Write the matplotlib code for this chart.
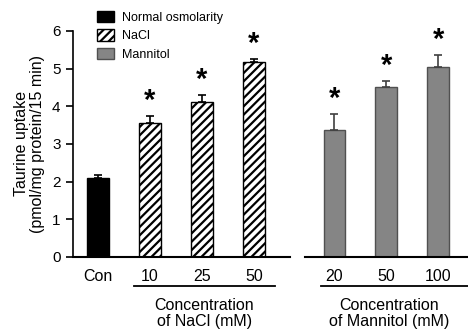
import numpy as np
import matplotlib.pyplot as plt
import matplotlib as mpl
from matplotlib.transforms import blended_transform_factory

mpl.rcParams['font.family'] = ['Liberation Sans', 'DejaVu Sans']
mpl.rcParams['hatch.linewidth'] = 1.6

# data
labels = ['Con', '10', '25', '50', '20', '50', '100']
groups = ['Normal osmolarity', 'NaCl', 'NaCl', 'NaCl', 'Mannitol', 'Mannitol', 'Mannitol']
uptake = [2.1, 3.55, 4.11, 5.17, 3.37, 4.5, 5.05]
sem = [0.07, 0.2, 0.18, 0.07, 0.42, 0.16, 0.3]
signif = [False, True, True, True, True, True, True]
pos = [0, 1, 2, 3, 4.55, 5.55, 6.55]

styles = {
    'Normal osmolarity': dict(color='black', edgecolor='black', hatch=None),
    'NaCl': dict(color='white', edgecolor='black', hatch='////'),
    'Mannitol': dict(color='#858585', edgecolor='#505050', hatch=None),
}

fig = plt.figure(figsize=(4.68, 3.35), dpi=100)
ax = fig.add_axes([0.156, 0.233, 0.844, 0.675])

seen = set()
for x, g, v, e, s in zip(pos, groups, uptake, sem, signif):
    st = styles[g]
    ax.bar(x, v, width=0.42, color=st['color'], edgecolor=st['edgecolor'],
           hatch=st['hatch'], linewidth=1.0,
           label=g if g not in seen else None, zorder=2)
    seen.add(g)
    ecol = '#404040' if g == 'Mannitol' else 'black'
    ax.errorbar(x, v, yerr=[[0], [e]], fmt='none', ecolor=ecol,
                elinewidth=1.2, capsize=3, capthick=1.2, zorder=3)
    if s:
        ax.text(x, v + e + 0.03, '*', ha='center', va='bottom',
                fontsize=21, fontweight='bold')

ax.set_xlim(-0.48, 7.12)
ax.set_ylim(0, 6)
ax.set_yticks(range(7))
ax.tick_params(axis='y', direction='out', length=5, width=1.2, labelsize=11, pad=4)
ax.set_xticks(pos)
ax.set_xticklabels(labels, fontsize=11.5)
ax.tick_params(axis='x', length=0, pad=9)

for sp in ['top', 'right', 'bottom']:
    ax.spines[sp].set_visible(False)
ax.spines['left'].set_linewidth(1.2)

# split baseline
ax.plot([-0.48, 3.69], [0, 0], color='black', lw=1.5, clip_on=False)
ax.plot([3.98, 7.12], [0, 0], color='black', lw=1.5, clip_on=False)

# group brackets under tick labels
tr = blended_transform_factory(ax.transData, ax.transAxes)
ax.plot([0.7, 3.4], [-0.128, -0.128], color='black', lw=1.3, transform=tr, clip_on=False)
ax.plot([4.3, 7.2], [-0.128, -0.128], color='black', lw=1.3, transform=tr, clip_on=False)
ax.text(2.05, -0.18, 'Concentration\nof NaCl (mM)', transform=tr, ha='center', va='top',
        fontsize=11.5, linespacing=1.1)
ax.text(5.6, -0.18, 'Concentration\nof Mannitol (mM)', transform=tr, ha='center', va='top',
        fontsize=11.5, linespacing=1.1)

ax.set_ylabel('Taurine uptake\n(pmol/mg protein/15 min)', fontsize=11.5, linespacing=1.1, labelpad=5)

ax.legend(loc='upper left', bbox_to_anchor=(0.185, 1.0), bbox_transform=fig.transFigure,
          frameon=False, fontsize=9, handlelength=1.36, handleheight=1.04,
          labelspacing=0.44, handletextpad=0.6, borderpad=0.35)

fig.savefig('out.png', dpi=100)
